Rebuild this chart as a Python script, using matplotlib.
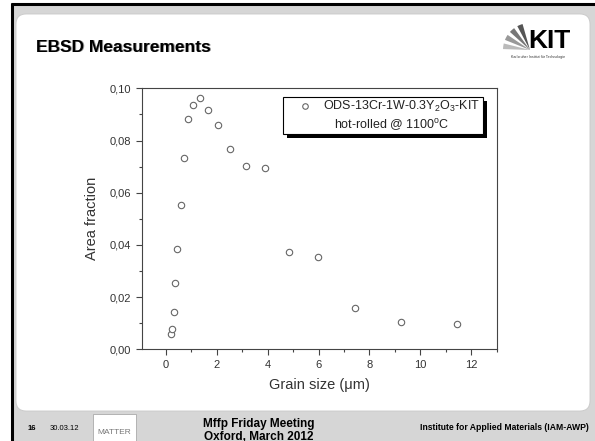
import matplotlib.pyplot as plt
from matplotlib.patches import Rectangle, FancyBboxPatch, Wedge
from matplotlib.ticker import FuncFormatter, MultipleLocator

plt.rcParams['font.family'] = ['Liberation Sans', 'DejaVu Sans']
plt.rcParams['mathtext.fontset'] = 'custom'
plt.rcParams['mathtext.rm'] = 'Liberation Sans'
plt.rcParams['mathtext.it'] = 'Liberation Sans:italic'
plt.rcParams['mathtext.bf'] = 'Liberation Sans:bold'

# grain size (um) vs area fraction
grain_size = [0.20, 0.25, 0.30, 0.37, 0.44, 0.58, 0.71, 0.86, 1.07, 1.33,
              1.65, 2.04, 2.53, 3.14, 3.89, 4.83, 5.98, 7.43, 9.23, 11.45]
area_fraction = [0.0057, 0.0078, 0.0143, 0.0254, 0.0383, 0.0552, 0.0732, 0.0884,
                 0.0937, 0.0964, 0.0917, 0.0861, 0.0767, 0.0704, 0.0696, 0.0373,
                 0.0355, 0.0157, 0.0106, 0.0098]

W, H = 595, 441
fig = plt.figure(figsize=(W / 100, H / 100), dpi=100)
fig.patch.set_facecolor("white")

# slide background drawn in pixel coords
bg = fig.add_axes([0, 0, 1, 1], zorder=0)
bg.set_xlim(0, W)
bg.set_ylim(H, 0)
bg.axis("off")
bg.add_patch(Rectangle((11, 3), W, H, facecolor="#d6d6d6", edgecolor="none"))
bg.plot([11, W], [4, 4], color="black", lw=2.2, solid_capstyle="butt")
bg.plot([12, 12], [3, H], color="black", lw=2.2, solid_capstyle="butt")
bg.add_patch(FancyBboxPatch((16, 14), 574, 397, boxstyle="round,pad=0,rounding_size=10",
                            facecolor="white", edgecolor="#c8c8c8", lw=0.6))

# title
bg.text(37, 48, "EBSD Measurements", fontsize=12.5, fontweight="bold", color="#999999",
        va="center", ha="left")
bg.text(36, 47, "EBSD Measurements", fontsize=12.5, fontweight="bold", color="black",
        va="center", ha="left")

# KIT logo (y axis is inverted here, so angles 180..270 point up-left)
for i, shade in enumerate(["#bbbbbb", "#999999", "#777777", "#555555"]):
    a0 = 182 + i * 20
    bg.add_patch(Wedge((530, 50), 27, a0, a0 + 12, facecolor=shade, edgecolor="none"))
bg.text(549, 41, "KIT", fontsize=19, fontweight="bold", color="black", ha="center", va="center")
bg.text(538, 57, "Karlsruher Institut für Technologie", fontsize=2.6, color="#333333",
        ha="center", va="center")

# footer
bg.text(28, 429, "16", fontsize=5.5, fontweight="bold", ha="left", va="center")
bg.text(50, 429, "30.03.12", fontsize=5.5, ha="left", va="center")
bg.add_patch(Rectangle((93, 414), 43, 30, facecolor="white", edgecolor="#aaaaaa", lw=0.6))
bg.text(114, 432, "MATTER", fontsize=6, color="#777777", ha="center", va="center")
bg.text(259, 424, "Mffp Friday Meeting", fontsize=8.5, fontweight="bold", ha="center", va="center")
bg.text(259, 437, "Oxford, March 2012", fontsize=8.5, fontweight="bold", ha="center", va="center")
bg.text(589, 428, "Institute for Applied Materials (IAM-AWP)", fontsize=6.2, fontweight="bold",
        ha="right", va="center")

# chart
ax = fig.add_axes([141.7 / W, 1 - 349.3 / H, 355 / W, 261 / H], zorder=2)
ax.plot(grain_size, area_fraction, linestyle="none", marker="o", markersize=4.6,
        markerfacecolor="white", markeredgecolor="#666666", markeredgewidth=0.8)
ax.set_xlim(-0.95, 13)
ax.set_ylim(0, 0.10)
ax.xaxis.set_major_locator(MultipleLocator(2))
ax.xaxis.set_minor_locator(MultipleLocator(1))
ax.yaxis.set_major_locator(MultipleLocator(0.02))
ax.yaxis.set_minor_locator(MultipleLocator(0.01))
ax.yaxis.set_major_formatter(FuncFormatter(lambda v, p: f"{v:.2f}".replace(".", ",")))
ax.tick_params(which="major", length=4, width=0.8, color="#444444", labelsize=8,
               labelcolor="#333333", direction="out")
ax.tick_params(which="minor", length=2.5, width=0.8, color="#444444", direction="out")
for s in ax.spines.values():
    s.set_color("#444444")
    s.set_linewidth(0.8)
ax.set_xlabel("Grain size (\u03bcm)", fontsize=10.5, color="#333333", labelpad=6)
ax.set_ylabel("Area fraction", fontsize=10.5, color="#333333", labelpad=8)

# legend box with shadow
lg = fig.add_axes([0, 0, 1, 1], zorder=3)
lg.set_xlim(0, W)
lg.set_ylim(H, 0)
lg.axis("off")
lg.add_patch(Rectangle((287, 101), 199.5, 37, facecolor="black", edgecolor="none"))
lg.add_patch(Rectangle((283, 97), 199.5, 37, facecolor="white", edgecolor="black", lw=0.8))
lg.plot([305], [105.5], linestyle="none", marker="o", markersize=4,
        markerfacecolor="white", markeredgecolor="#666666", markeredgewidth=0.8)
lg.text(323, 106, "ODS-13Cr-1W-0.3Y$_2$O$_3$-KIT", fontsize=9, color="#222222",
        ha="left", va="center")
lg.text(392, 125, "hot-rolled @ 1100$^{\\rm o}$C", fontsize=9, color="#222222",
        ha="center", va="center")

fig.savefig("out.png", dpi=100)
